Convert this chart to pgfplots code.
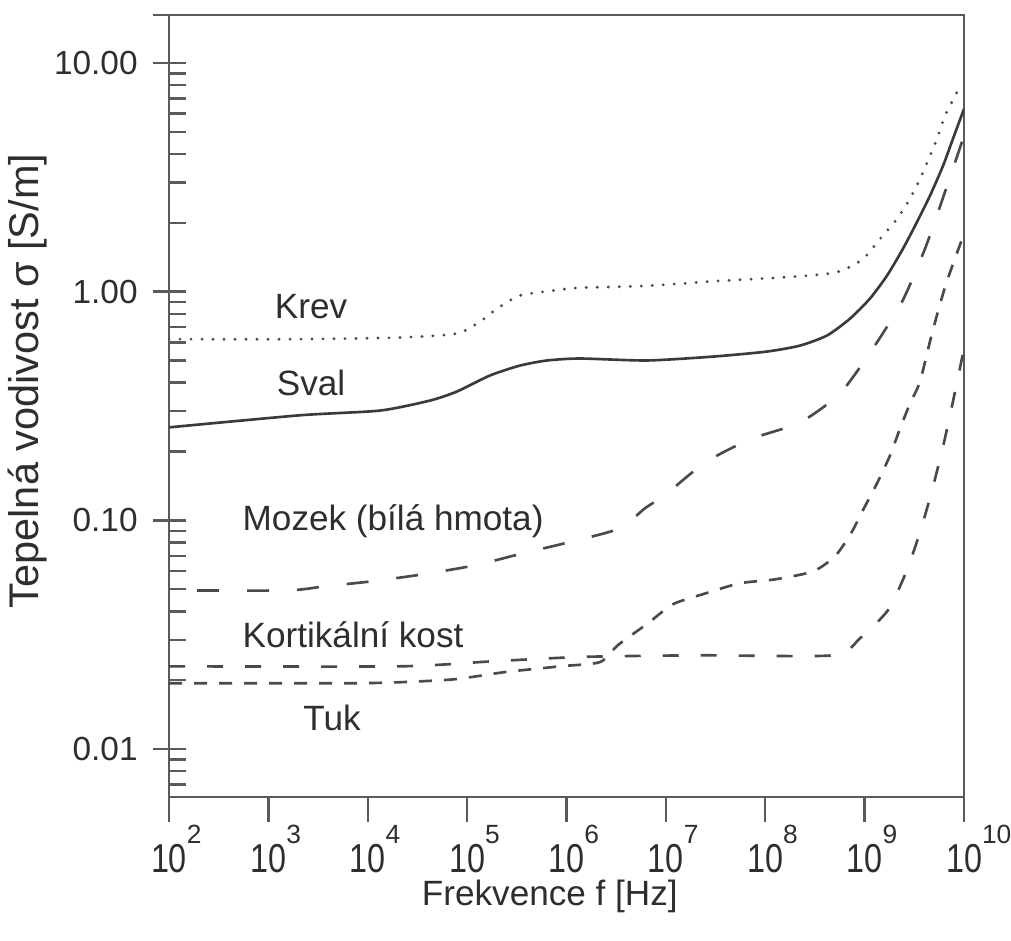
\documentclass[border=0pt]{standalone}
\usepackage{fontspec}
\setmainfont{Liberation Sans}
\setsansfont{Liberation Sans}
\usepackage{graphicx}
\usepackage{pgfplots}
\pgfplotsset{compat=1.18}
\definecolor{ax}{HTML}{5A5A5A}
\definecolor{crv}{HTML}{3A3A3A}
\definecolor{dsh}{HTML}{4A4A4A}
\definecolor{txt}{HTML}{2E2E2E}
\newcommand\expo[1]{\raisebox{8.5pt}{\fontsize{7.5}{8}\selectfont #1}}
\newcommand\xl[1]{\phantom{\expo{#1}}\scalebox{0.8}[1]{\fontsize{11.5}{13}\selectfont 10}\expo{#1}}
\tikzset{
  lbl/.style={font=\fontsize{10}{12}\selectfont, text=txt, anchor=center, inner sep=0pt},
}
\begin{document}
\begin{tikzpicture}
\path[use as bounding box] (-16.9mm,-14.3mm) rectangle (84.2mm,79.7mm);
\begin{axis}[
  name=ax, at={(0,0)}, anchor=south west, scale only axis,
  width=79.5mm, height=78.2mm,
  xmode=log, ymode=log, log basis x=10, log basis y=10,
  xmin=1e2, xmax=1e10, ymin=0.00617, ymax=16.2,
  axis line style={ax, line width=0.7pt},
  every tick/.style={ax, line width=0.7pt},
  tick pos=left, tick align=outside,
  major tick length=2.5mm,
  xtick={1e2,1e3,1e4,1e5,1e6,1e7,1e8,1e9,1e10},
  xticklabels={\xl{2},\xl{3},\xl{4},\xl{5},\xl{6},\xl{7},\xl{8},\xl{9},\xl{10}},
  xminorticks=false, yminorticks=false,
  ytick={0.01,0.1,1,10},
  ytick style={xshift=0.9mm},
  yticklabel={\pgfmathparse{10^\tick}\pgfmathprintnumber[fixed,fixed zerofill,precision=2]{\pgfmathresult}},
  /pgf/number format/assume math mode=true,
  xticklabel style={font=\fontsize{10}{12}\selectfont, text=txt, anchor=base, yshift=-5.1mm},
  yticklabel style={font=\fontsize{9.5}{11}\selectfont, text=txt, anchor=east, xshift=0.6mm},
  extra y ticks={0.007,0.008,0.009,0.01,0.02,0.03,0.04,0.05,0.06,0.07,0.08,0.09,0.1,0.2,0.3,0.4,0.5,0.6,0.7,0.8,0.9,1,2,3,4,5,6,7,8,9,10},
  extra y tick labels={},
  extra y tick style={major tick length=1.7mm, ytick style={xshift=0.8mm}},
  xlabel={Frekvence f [Hz]},
  ylabel={Tepelná vodivost σ [S/m]},
  every axis x label/.style={at={(axis description cs:0.479,0)}, anchor=center, yshift=-9.9mm,
    font=\fontsize{10}{12}\selectfont, text=txt},
  every axis y label/.style={at={(axis description cs:-0.1774,0.532)}, anchor=center, rotate=90,
    font=\fontsize{11.8}{13}\selectfont, text=txt},
]
% Krev
\addplot[dsh, line width=0.9pt, line cap=round, dash pattern=on 0pt off 1.1mm, smooth, tension=0.4] coordinates {
  (1e2,0.62) (2.08e3,0.62) (2.11e4,0.63) (7.9e4,0.656) (1.35e5,0.74) (2.0e5,0.843)
  (3.39e5,0.962) (7.31e5,1.01) (1.37e6,1.04) (6.46e6,1.06) (2.98e7,1.11) (1.31e8,1.15)
  (3.8e8,1.19) (6.03e8,1.24) (9.64e8,1.39) (1.43e9,1.70) (2.12e9,2.08) (2.86e9,2.55)
  (3.61e9,3.11) (4.55e9,3.93) (5.35e9,4.66) (6.44e9,5.87) (8.51e9,7.46)};
% Sval
\addplot[crv, line width=0.75pt, smooth, tension=0.4] coordinates {
  (1e2,0.255) (2.08e3,0.288) (1.33e4,0.302) (4.23e4,0.334) (7.91e4,0.366) (1.70e5,0.430)
  (3.40e5,0.475) (6.37e5,0.500) (1.37e6,0.510) (6.46e6,0.500) (2.98e7,0.520) (1.04e8,0.547)
  (2.24e8,0.581) (4.18e8,0.643) (7.13e8,0.762) (1.13e9,0.932) (1.68e9,1.175) (2.43e9,1.54)
  (3.37e9,2.02) (4.55e9,2.63) (6.15e9,3.55) (7.74e9,4.66) (1e10,6.30)};
% Mozek (bila hmota)
\addplot[dsh, line width=0.75pt, dash pattern=on 2.2mm off 2.8mm, dash phase=2.2mm, smooth, tension=0.4] coordinates {
  (1e2,0.0494) (1.54e3,0.0494) (3.72e3,0.0515) (1.13e4,0.0542) (3.60e4,0.0581) (1.20e5,0.0636)
  (3.65e5,0.0718) (1.16e6,0.0810) (3.45e6,0.0923) (6.17e6,0.113) (9.79e6,0.129) (2.48e7,0.179)
  (7.03e7,0.226) (2.24e8,0.268) (5.65e8,0.359) (1.21e9,0.564) (2.38e9,0.904) (4.05e9,1.54)
  (6.44e9,2.73) (1e10,4.8)};
% Kortikalni kost
\addplot[dsh, line width=0.75pt, dash pattern=on 1.6mm off 2.2mm, smooth, tension=0.4] coordinates {
  (1e2,0.0230) (2.11e4,0.0230) (1.82e5,0.0242) (1.5e6,0.0253) (2.20e7,0.0257) (4.81e8,0.0257)
  (8.97e8,0.0305) (1.72e9,0.0405) (2.61e9,0.0593) (3.61e9,0.0887) (4.76e9,0.135) (6.15e9,0.210)
  (7.74e9,0.331) (1e10,0.564)};
% Tuk
\addplot[dsh, line width=0.75pt, dash pattern=on 1.3mm off 1.2mm, smooth, tension=0.4] coordinates {
  (1e2,0.0194) (6.18e3,0.0194) (2.11e4,0.0196) (7.55e4,0.0202) (2.40e5,0.0217) (8.61e5,0.0230)
  (2.17e6,0.0240) (3.30e6,0.0285) (6.61e6,0.0355) (1.18e7,0.0430) (2.53e7,0.0480) (5.57e7,0.0531)
  (1.25e8,0.0552) (3.02e8,0.0598) (5.04e8,0.0697) (7.29e8,0.0877) (9.64e8,0.111) (1.33e9,0.145)
  (1.80e9,0.192) (2.27e9,0.252) (2.86e9,0.324) (3.61e9,0.405) (4.76e9,0.656) (6.59e9,1.08)
  (1e10,1.79)};
\node[lbl] at (axis cs:2.69e3,0.86) {Krev};
\node[lbl] at (axis cs:2.69e3,0.397) {Sval};
\node[lbl] at (axis cs:1.80e4,0.099) {Mozek (bílá hmota)};
\node[lbl] at (axis cs:7.11e3,0.0315) {Kortikální kost};
\node[lbl] at (axis cs:4.37e3,0.01365) {Tuk};
\end{axis}
\draw[ax, line width=0.7pt] (ax.north west) -- ++(-1.6mm,0);
\end{tikzpicture}
\end{document}
